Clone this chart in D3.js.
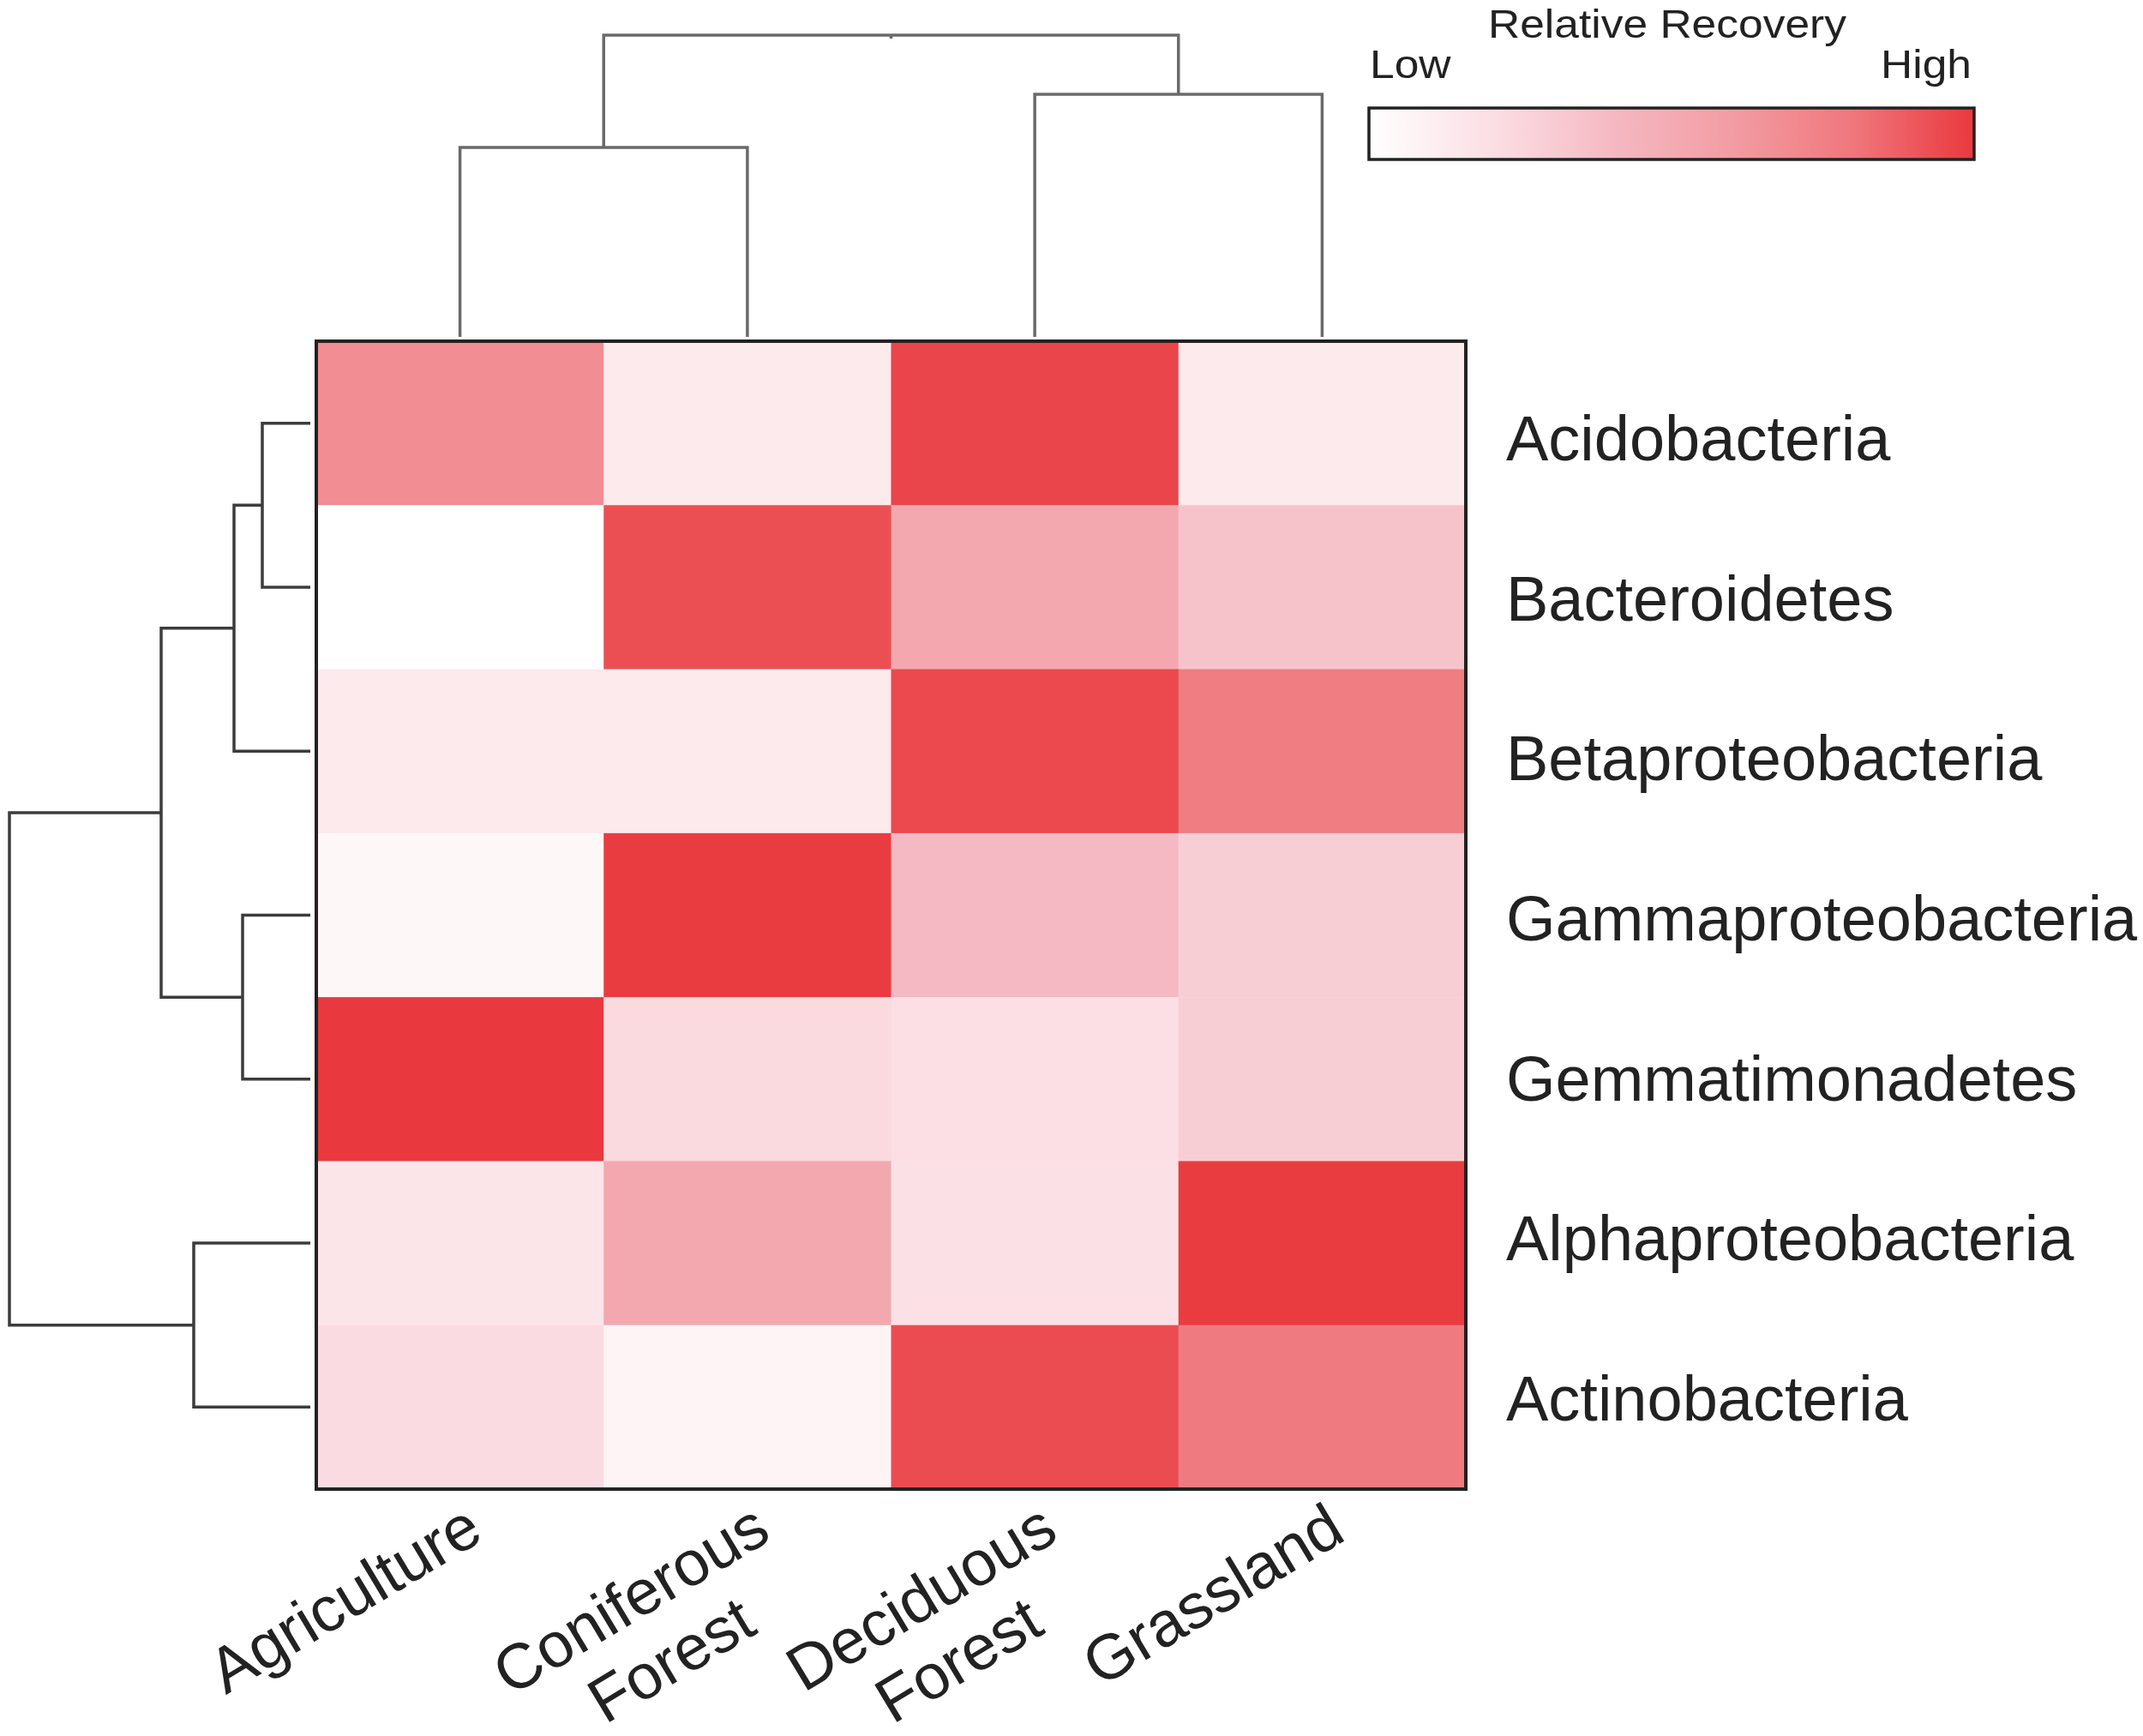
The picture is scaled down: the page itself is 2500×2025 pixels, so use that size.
<!DOCTYPE html>
<html>
<head>
<meta charset="utf-8">
<script src="https://cdn.jsdelivr.net/npm/d3@7"></script>
<style>
  body { margin: 0; background: #fff; }
  text { font-family: 'Liberation Sans', Arial, sans-serif; fill: #222; }
</style>
</head>
<body>
<div id="chart"></div>
<script>
// soil types (columns) and phyla (rows), in dendrogram order
const columns = ['Agriculture', 'Coniferous Forest', 'Deciduous Forest', 'Grassland'];
const columnLines = [['Agriculture'], ['Coniferous', 'Forest'], ['Deciduous', 'Forest'], ['Grassland']];
const rows = ['Acidobacteria', 'Bacteroidetes', 'Betaproteobacteria', 'Gammaproteobacteria',
  'Gemmatimonadetes', 'Alphaproteobacteria', 'Actinobacteria'];

// relative recovery, 0 = low, 1 = high (one array per row, column order as above)
const acidobacteria = [0.68, 0.13, 0.96, 0.13];
const bacteroidetes = [0.00, 0.93, 0.52, 0.35];
const betaproteobacteria = [0.13, 0.13, 0.95, 0.77];
const gammaproteobacteria = [0.05, 0.99, 0.40, 0.29];
const gemmatimonadetes = [1.00, 0.23, 0.20, 0.29];
const alphaproteobacteria = [0.16, 0.52, 0.19, 0.99];
const actinobacteria = [0.22, 0.07, 0.94, 0.78];
const values = [acidobacteria, bacteroidetes, betaproteobacteria, gammaproteobacteria,
  gemmatimonadetes, alphaproteobacteria, actinobacteria];

// cluster trees, merge heights in linkage distance
const columnTree = {height: 3.52, children: [
  {height: 2.21, children: [{name: 'Agriculture'}, {name: 'Coniferous Forest'}]},
  {height: 2.83, children: [{name: 'Deciduous Forest'}, {name: 'Grassland'}]}
]};
const rowTree = {height: 3.51, children: [
  {height: 1.74, children: [
    {height: 0.89, children: [
      {height: 0.56, children: [{name: 'Acidobacteria'}, {name: 'Bacteroidetes'}]},
      {name: 'Betaproteobacteria'}
    ]},
    {height: 0.79, children: [{name: 'Gammaproteobacteria'}, {name: 'Gemmatimonadetes'}]}
  ]},
  {height: 1.36, children: [{name: 'Alphaproteobacteria'}, {name: 'Actinobacteria'}]}
]};

const colorStops = [0, 0.2, 0.4, 0.6, 0.8, 1];
const colorRange = ['#ffffff', '#fbdfe4', '#f5b9c3', '#f29ca3', '#ef777c', '#e9393e'];

const width = 2500;
const height = 2025;

const svg = d3.select('#chart').append('svg')
  .attr('width', width)
  .attr('height', height);

const x = d3.scaleBand().domain(columns).range([369, 1710]);
const y = d3.scaleBand().domain(rows).range([398, 1737]);
const color = d3.scaleLinear().domain(colorStops).range(colorRange);
const labelY = d3.scalePoint().domain(rows).range([537, 1657]);

// cells
const cells = [];
rows.forEach((r, i) => columns.forEach((c, j) => cells.push({row: r, col: c, v: values[i][j]})));

svg.append('g')
  .selectAll('rect')
  .data(cells)
  .join('rect')
  .attr('x', d => x(d.col))
  .attr('y', d => y(d.row))
  .attr('width', x.bandwidth() + 0.5)
  .attr('height', y.bandwidth() + 0.5)
  .attr('fill', d => color(d.v));

svg.append('rect')
  .attr('x', x.range()[0])
  .attr('y', y.range()[0])
  .attr('width', x.range()[1] - x.range()[0])
  .attr('height', y.range()[1] - y.range()[0])
  .attr('fill', 'none')
  .attr('stroke', '#222')
  .attr('stroke-width', 4);

// row labels
svg.append('g')
  .selectAll('text')
  .data(rows)
  .join('text')
  .attr('x', 1757)
  .attr('y', d => labelY(d))
  .attr('font-size', 74)
  .text(d => d);

// column labels, rotated
const colLabel = svg.append('g')
  .selectAll('g')
  .data(columns)
  .join('g')
  .attr('transform', d => `translate(${x(d) + x.bandwidth() / 2 + 30}, ${y.range()[1] + 58}) rotate(-31)`);

colLabel.append('text')
  .attr('text-anchor', 'end')
  .attr('font-size', 74)
  .each(function(d, i) {
    const t = d3.select(this);
    columnLines[i].forEach((line, k) => {
      t.append('tspan')
        .attr('x', k === 0 ? 0 : -70)
        .attr('dy', k === 0 ? 0 : 85)
        .text(line);
    });
  });

// dendrograms
function placeTree(tree, pos) {
  const root = d3.hierarchy(tree);
  root.eachAfter(n => {
    n.h = n.data.height || 0;
    n.p = n.children ? d3.mean(n.children, c => c.p) : pos(n.data.name);
  });
  return root;
}

const colRoot = placeTree(columnTree, d => x(d) + x.bandwidth() / 2);
const colH = d3.scaleLinear().domain([0, columnTree.height]).range([393, 41]);

svg.append('g')
  .attr('fill', 'none')
  .attr('stroke', '#6a6a6a')
  .attr('stroke-width', 3.5)
  .selectAll('path')
  .data(colRoot.descendants().filter(n => n.children))
  .join('path')
  .attr('d', n => {
    const [a, b] = n.children;
    let p = `M${a.p},${colH(a.h)}V${colH(n.h)}H${b.p}V${colH(b.h)}`;
    if (!n.parent) p += `M${n.p},${colH(n.h)}V${colH(n.h) + 4}`;
    return p;
  });

const rowRoot = placeTree(rowTree, d => y(d) + y.bandwidth() / 2);
const rowH = d3.scaleLinear().domain([0, rowTree.height]).range([362, 11]);

svg.append('g')
  .attr('fill', 'none')
  .attr('stroke', '#3c3c3c')
  .attr('stroke-width', 3.5)
  .selectAll('path')
  .data(rowRoot.descendants().filter(n => n.children))
  .join('path')
  .attr('d', n => {
    const [a, b] = n.children;
    return `M${rowH(a.h)},${a.p}H${rowH(n.h)}V${b.p}H${rowH(b.h)}`;
  });

// legend
const legend = {x: 1597, y: 126, w: 706, h: 60};
const grad = svg.append('defs').append('linearGradient').attr('id', 'ramp');
grad.selectAll('stop')
  .data(d3.range(0, 1.0001, 0.05))
  .join('stop')
  .attr('offset', d => `${d * 100}%`)
  .attr('stop-color', d => color(d));

svg.append('rect')
  .attr('x', legend.x)
  .attr('y', legend.y)
  .attr('width', legend.w)
  .attr('height', legend.h)
  .attr('fill', 'url(#ramp)')
  .attr('stroke', '#222')
  .attr('stroke-width', 3.5);

const legendText = [
  {t: 'Relative Recovery', x: 1945, y: 44, anchor: 'middle'},
  {t: 'Low', x: 1598, y: 91, anchor: 'start'},
  {t: 'High', x: 2300, y: 91, anchor: 'end'}
];
svg.append('g')
  .selectAll('text')
  .data(legendText)
  .join('text')
  .attr('transform', d => `translate(${d.x},${d.y}) scale(1.12,1)`)
  .attr('text-anchor', d => d.anchor)
  .attr('font-size', 46)
  .text(d => d.t);
</script>
</body>
</html>
